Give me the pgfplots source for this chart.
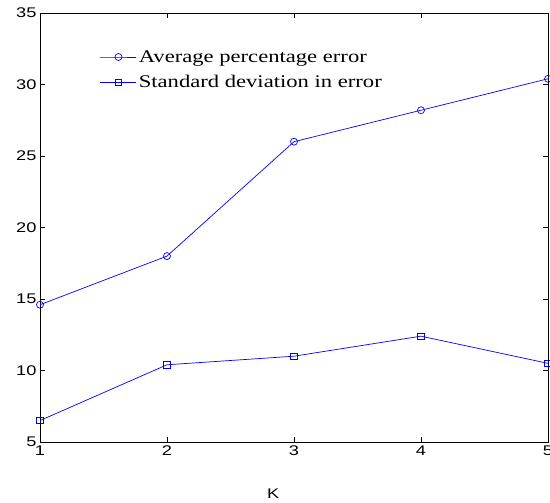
\documentclass[border=0pt]{standalone}
\usepackage{fontspec}
\setmainfont{Liberation Serif}
\newfontfamily\helv[FakeStretch=1.3]{Liberation Sans}
\newfontfamily\tms[FakeStretch=1.27]{Liberation Serif}
\usepackage{pgfplots}
\pgfplotsset{compat=1.18}
\usetikzlibrary{calc}
\begin{document}
\begin{tikzpicture}
\begin{axis}[
  name=ax,
  scale only axis,
  width=508pt, height=429pt,
  xmin=1, xmax=5, ymin=5, ymax=35,
  xtick={1,2,3,4,5},
  ytick={5,10,15,20,25,30,35},
  tick align=inside,
  major tick length=5pt,
  tick style={black, line width=0.6pt},
  axis line style={line width=0.8pt},
  ticklabel style={font=\helv\fontsize{14}{14}\selectfont},
  /pgf/number format/assume math mode=true,
  xlabel={K},
  xlabel style={font=\helv\fontsize{14}{14}\selectfont, at={(axis description cs:0.459,0)}, anchor=base, yshift=-56pt},
  legend style={draw=none, fill=none, at={(axis description cs:0.118,0.918)}, anchor=north west,
    font=\tms\fontsize{17.8}{17.8}\selectfont, row sep=8pt, inner sep=0pt,
    nodes={inner sep=2pt}},
  legend cell align=left,
  legend image code/.code={\draw[mark repeat=2,mark phase=2] plot coordinates {(0pt,0pt) (18pt,0pt) (36pt,0pt)};},
]
\addplot[blue, line width=0.7pt, mark=o, mark size=3.5pt] coordinates {
  (1,14.6) (2,18.0) (3,26.0) (4,28.2) (5,30.4)
};
\addlegendentry{Average percentage error}
\addplot[blue, line width=0.7pt, mark=square, mark size=3.2pt] coordinates {
  (1,6.5) (2,10.4) (3,11.0) (4,12.4) (5,10.5)
};
\addlegendentry{Standard deviation in error}
\end{axis}
\pgfresetboundingbox
\path[use as bounding box] ($(ax.south west)+(-40pt,-60pt)$) rectangle ($(ax.north east)+(2pt,13pt)$);
\end{tikzpicture}
\end{document}
